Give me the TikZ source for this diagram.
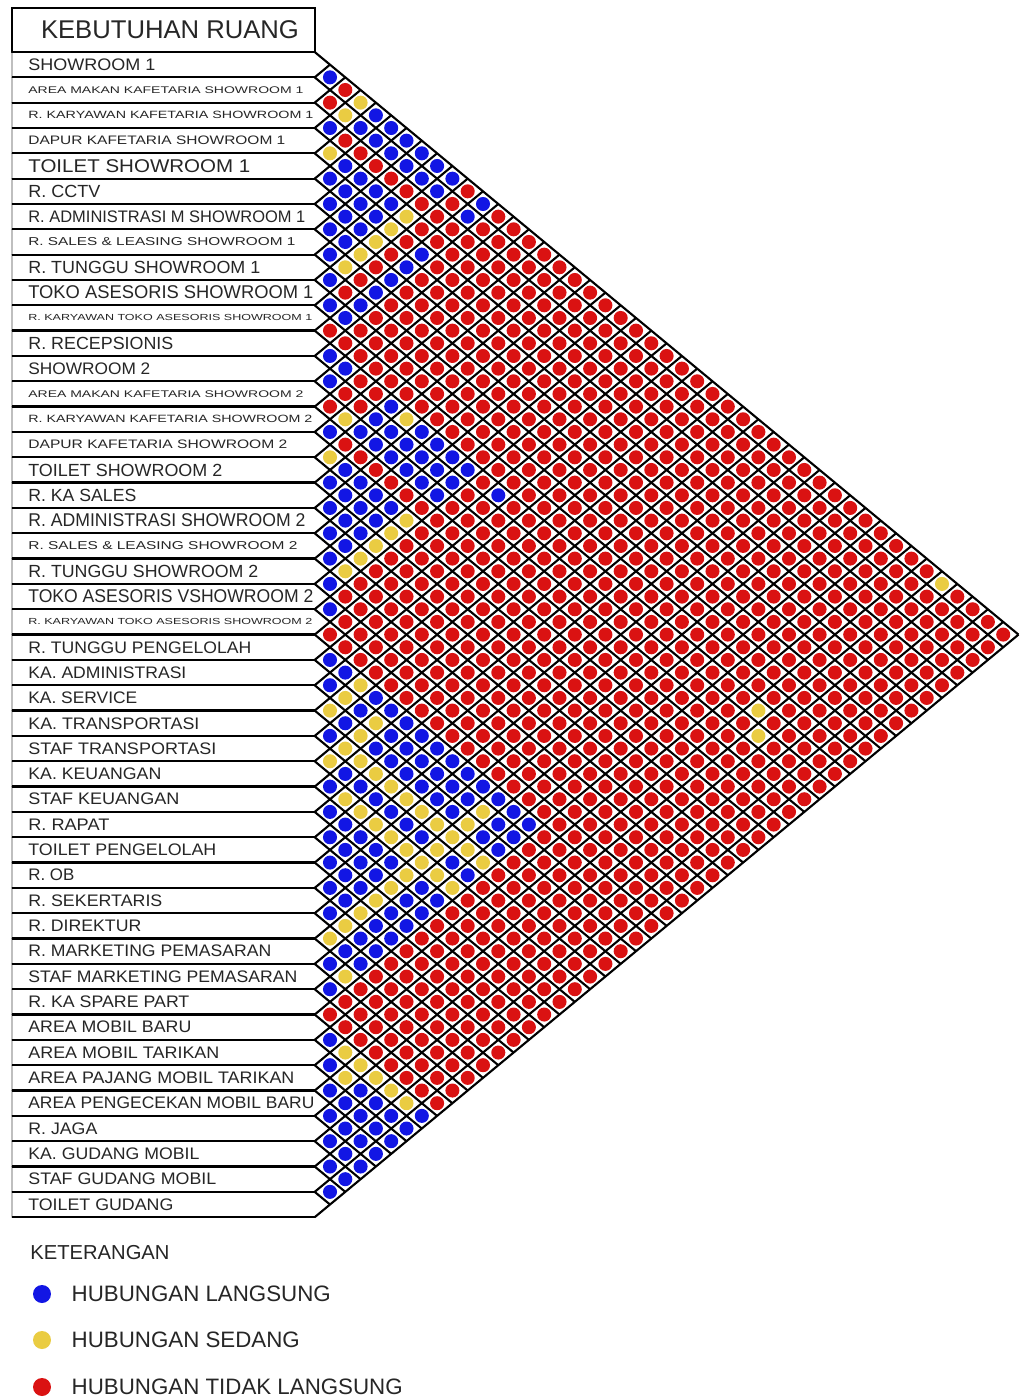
\documentclass[tikz,border=0pt]{standalone}
\usepackage{fontspec}
\setmainfont{Liberation Sans}
\usepackage{graphicx}
\usetikzlibrary{positioning}
\definecolor{relB}{RGB}{18,22,228}
\definecolor{relY}{RGB}{234,204,66}
\definecolor{relR}{RGB}{218,18,18}
\newlength\labu
\setlength\labu{0.02cm}
\newcommand{\setrel}[2]{\foreach \p in {#2}{\expandafter\gdef\csname rc\p\endcsname{#1}}}

\begin{document}
\begin{tikzpicture}[x=0.02cm,y=-0.02cm,
  rowbox/.style={draw=black!70,line width=0.5pt,fill=white},
  rowsep/.style={line width=1.3pt},
  gridline/.style={line width=1.2pt},
  rowtxt/.style={anchor=west,inner sep=0pt,text=black!85},
  legtxt/.style={anchor=west,inner sep=0pt,text=black!85,font=\fontsize{12.7}{14}\selectfont},
  legdot/.style={circle,inner sep=0pt,minimum size=0.36cm}]
  \useasboundingbox (0,0) rectangle (1019,1400);
  \fill[white] (0,0) rectangle (1019,1400);
  % title box
  \draw[line width=1.1pt] (12,8) rectangle (314.7,52);
  \node[text=black!85,font=\fontsize{14.6}{16}\selectfont] (title) at (170,30) {KEBUTUHAN RUANG};
  % room rows
  \foreach \txt/\fs/\w [count=\i] in {SHOWROOM 1/9.5/127,
    AREA MAKAN KAFETARIA SHOWROOM 1/5.5/275,
    R. KARYAWAN KAFETARIA SHOWROOM 1/6/285,
    DAPUR KAFETARIA SHOWROOM 1/7/257,
    TOILET SHOWROOM 1/10.5/222,
    R. CCTV/10/72,
    R. ADMINISTRASI M SHOWROOM 1/9.5/277,
    R. SALES \& LEASING SHOWROOM 1/6.5/267,
    R. TUNGGU SHOWROOM 1/10/232,
    TOKO ASESORIS SHOWROOM 1/10.5/285,
    R. KARYAWAN TOKO ASESORIS SHOWROOM 1/5/284,
    R. RECEPSIONIS/10/145,
    SHOWROOM 2/9.5/122,
    AREA MAKAN KAFETARIA SHOWROOM 2/5.5/275,
    R. KARYAWAN KAFETARIA SHOWROOM 2/6/284,
    DAPUR KAFETARIA SHOWROOM 2/7/259,
    TOILET SHOWROOM 2/10/194,
    R. KA SALES/10/108,
    R. ADMINISTRASI SHOWROOM 2/10.5/277,
    R. SALES \& LEASING SHOWROOM 2/6.5/269,
    R. TUNGGU SHOWROOM 2/10/230,
    TOKO ASESORIS VSHOWROOM 2/10.5/285,
    R. KARYAWAN TOKO ASESORIS SHOWROOM 2/5/284,
    R. TUNGGU PENGELOLAH/9.5/223,
    KA. ADMINISTRASI/9.5/158,
    KA. SERVICE/9.5/109,
    KA. TRANSPORTASI/9.5/171,
    STAF TRANSPORTASI/9.5/188,
    KA. KEUANGAN/9.5/133,
    STAF KEUANGAN/9.5/151,
    R. RAPAT/9.5/81,
    TOILET PENGELOLAH/9.5/188,
    R. OB/9.5/46,
    R. SEKERTARIS/9.5/134,
    R. DIREKTUR/9.5/113,
    R. MARKETING PEMASARAN/9.5/243,
    STAF MARKETING PEMASARAN/9.5/269,
    R. KA SPARE PART/9.5/161,
    AREA MOBIL BARU/9.5/163,
    AREA MOBIL TARIKAN/9.5/191,
    AREA PAJANG MOBIL TARIKAN/9.5/266,
    AREA PENGECEKAN MOBIL BARU/9.5/286,
    R. JAGA/9.5/69,
    KA. GUDANG MOBIL/9.5/171,
    STAF GUDANG MOBIL/9.5/188,
    TOILET GUDANG/9.5/145}{
    \pgfmathsetmacro\ya{52+(\i-1)*25.33}
    \pgfmathsetmacro\yb{52+\i*25.33}
    \pgfmathsetmacro\yc{52+(\i-0.5)*25.33}
    \draw[rowbox] (12,\ya) -- (314.7,\ya) -- (330,\yc) -- (314.7,\yb) -- (12,\yb) -- cycle;
    \node[rowtxt,font=\fontsize{\fs}{\fs}\selectfont] (r\i) at (28,\yc) {\resizebox{\w\labu}{\height}{\txt}};
  }
  \foreach \m in {0,...,46}
    \draw[rowsep] (12,52+\m*25.33) -- (314.7,52+\m*25.33);
  % diamond grid
  \foreach \m in {0,...,45}
    \draw[gridline] (314.7,52+\m*25.33) -- ({330+(45-\m)*15.3},{52+(\m+0.5)*25.33+(45-\m)*12.665});
  \foreach \n in {1,...,46}
    \draw[gridline] (314.7,52+\n*25.33) -- ({330+(\n-1)*15.3},{52+(\n-0.5)*25.33-(\n-1)*12.665});
  % relations (red unless set)
  \foreach \i in {24,...,37}{\pgfmathtruncatemacro\ja{\i+1}
    \foreach \j in {\ja,...,38}{\expandafter\gdef\csname rc\i-\j\endcsname{relB}}}
  \foreach \i in {39,...,45}{\pgfmathtruncatemacro\ja{\i+1}
    \foreach \j in {\ja,...,46}{\expandafter\gdef\csname rc\i-\j\endcsname{relB}}}
  \setrel{relB}{1-2,3-4,1-5,2-5,1-6,2-6,4-6,5-6,1-7,2-7,4-7,5-7,6-7,1-8,2-8,4-8,5-8,6-8,7-8,1-9,2-9,4-9,5-9,6-9,7-9,8-9,1-10,2-10,9-10,10-11,1-12,2-12,5-12,6-12,7-12,8-12,9-12,10-12}
  \setrel{relB}{13-14,15-16,13-17,14-17,13-18,14-18,16-18,17-18,13-19,14-19,16-19,17-19,18-19,13-20,14-20,16-20,17-20,18-20,19-20,13-21,14-21,16-21,17-21,18-21,19-21,20-21,13-22,14-22,21-22,22-23,12-13,12-14,12-17,12-19,12-20,12-21,12-22,12-24}
  \setrel{relY}{1-4,2-4,4-5,4-10,5-10,6-10,7-10,8-10,14-16,16-17,16-22,17-22,18-22,19-22,20-22,12-18}
  \setrel{relY}{24-27,25-27,26-27,25-29,26-29,27-29,28-29,27-30,27-31,27-32,27-33,27-34,27-35,27-36,27-37,27-38,29-31,29-32,29-33,29-34,29-35,29-36,29-37,29-38,25-36,26-36,28-36,30-36,31-36,32-36,33-36,34-36,35-36,36-38}
  \setrel{relY}{39-41,39-42,40-42,39-43,39-44,39-45,1-42,12-41,13-42}
  \foreach \i in {1,...,45}{
    \pgfmathtruncatemacro\ja{\i+1}
    \foreach \j in {\ja,...,46}{
      \ifcsname rc\i-\j\endcsname\edef\col{\csname rc\i-\j\endcsname}\else\def\col{relR}\fi
      \fill[\col] ({330+(\j-\i-1)*15.3},{52+(\i+\j-1)*12.665}) circle[radius=4pt];
    }
  }
  % legend
  \node[anchor=west,inner sep=0pt,text=black!85,font=\fontsize{11.5}{13}\selectfont] (ket) at (30,1253) {KETERANGAN};
  \node[legdot,fill=relB] (dB) at (42,1294) {};
  \node[legtxt,right=0.4cm of dB] (tB) {HUBUNGAN LANGSUNG};
  \node[legdot,fill=relY] (dY) at (42,1340) {};
  \node[legtxt,right=0.4cm of dY] (tY) {HUBUNGAN SEDANG};
  \node[legdot,fill=relR] (dR) at (42,1387) {};
  \node[legtxt,right=0.4cm of dR] (tR) {HUBUNGAN TIDAK LANGSUNG};
\end{tikzpicture}
\end{document}
